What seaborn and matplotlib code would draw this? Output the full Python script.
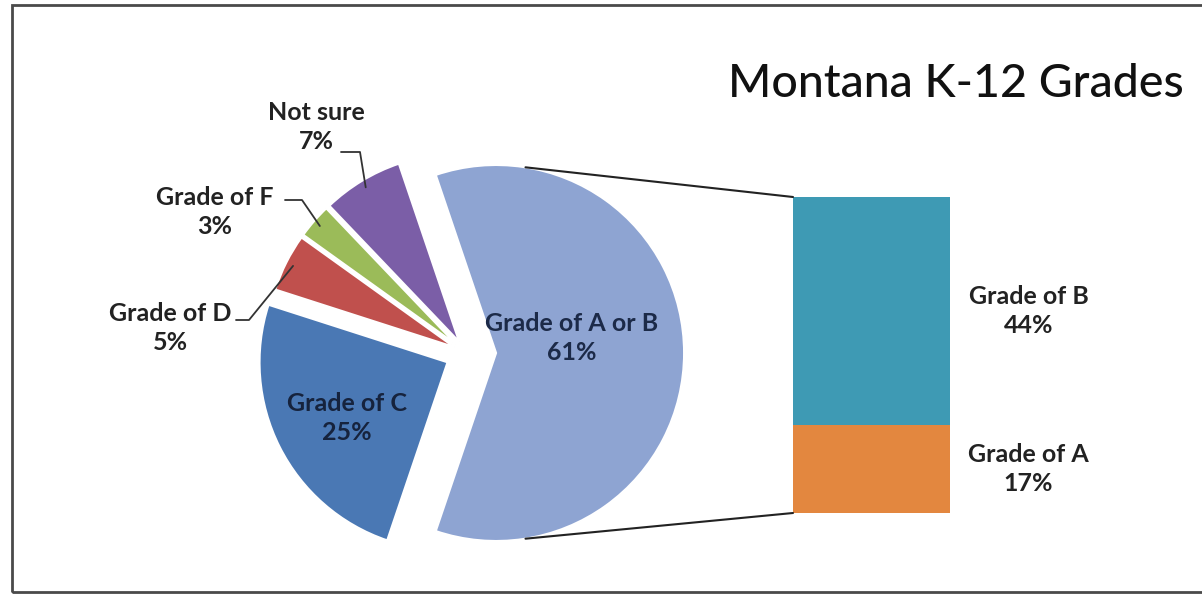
import matplotlib
matplotlib.use("Agg")
import matplotlib.pyplot as plt
from matplotlib.patches import ConnectionPatch, Rectangle
import numpy as np
import seaborn as sns

# data
pie_labels = ["Grade of A or B", "Not sure", "Grade of F", "Grade of D", "Grade of C"]
pie_values = [61, 7, 3, 5, 25]
bar_labels = ["Grade of A", "Grade of B"]
bar_values = [17, 44]
title = "Montana K-12 Grades"

pie_colors = ["#8EA4D2", "#7B5EA7", "#9BBB59", "#C0504D", "#4A78B4"]
bar_colors = ["#E3873F", "#3E9AB4"]

sns.set_theme(style="white")
plt.rcParams['font.family'] = ['Lato', 'DejaVu Sans']

W, H = 1202, 594
fig = plt.figure(figsize=(W / 100, H / 100), dpi=100)
ax = fig.add_axes([0, 0, 1, 1])

R = 188
explode = [0.16 * R, 0.07 * R, 0.07 * R, 0.07 * R, 0.11 * R]
start = -pie_values[0] / sum(pie_values) * 180
wedges, _ = ax.pie(pie_values, explode=explode, colors=pie_colors,
                   startangle=start, center=(466, H - 353), radius=R,
                   wedgeprops=dict(edgecolor="white", linewidth=1.5),
                   frame=True)
ax.set_xlim(0, W)
ax.set_ylim(0, H)
ax.axis("off")

lbl_size = 18
txt_col = "#222222"

# labels inside the big slices (pixel layout, y from top)
ax.text(572, H - 338, f"{pie_labels[0]}\n{pie_values[0]}%", ha="center", va="center",
        fontsize=lbl_size, fontweight="bold", color="#1c2a48", linespacing=1.3)
ax.text(347, H - 418, f"{pie_labels[4]}\n{pie_values[4]}%", ha="center", va="center",
        fontsize=lbl_size, fontweight="bold", color="#16233d", linespacing=1.3)

# outside labels with leader lines: (label centre, dash start, elbow)
outside = {1: ((316, 127), (341, 152), (360, 152)),
           2: ((215, 212), (285, 200), (302, 200)),
           3: ((170, 328), (236, 320), (249, 320))}
for i, (pos, d0, d1) in outside.items():
    w = wedges[i]
    mid = np.deg2rad((w.theta1 + w.theta2) / 2)
    px = w.center[0] + w.r * 0.96 * np.cos(mid)
    py = w.center[1] + w.r * 0.96 * np.sin(mid)
    ax.text(pos[0], H - pos[1], f"{pie_labels[i]}\n{pie_values[i]}%", ha="center",
            va="center", fontsize=lbl_size, fontweight="bold", color=txt_col,
            linespacing=1.3)
    ax.plot([d0[0], d1[0], px], [H - d0[1], H - d1[1], py], color="#333333", lw=1.3)

ax.text(956, H - 84, title, ha="center", va="center", fontsize=33.5,
        fontweight="medium", color="#111111")

# stacked bar of the split slice
ax2 = fig.add_axes([793 / W, (H - 513) / H, 157 / W, 316 / H])
bottoms = np.concatenate([[0], np.cumsum(bar_values)[:-1]])
ax2.bar(0, bar_values, bottom=bottoms, width=1, color=bar_colors, linewidth=0)
ax2.set_xlim(-0.5, 0.5)
ax2.set_ylim(0, sum(bar_values))
ax2.axis("off")
for lab, v, b in zip(bar_labels, bar_values, bottoms):
    ax2.text(1.0, b + v / 2, f"{lab}\n{v}%", ha="center", va="center", fontsize=lbl_size,
             fontweight="bold", color=txt_col, linespacing=1.3, clip_on=False)

# connector lines from the big slice to the bar
w = wedges[0]
for ang, yb in [(81, sum(bar_values)), (-81, 0)]:
    a = np.deg2rad(ang)
    p = (w.center[0] + w.r * np.cos(a), w.center[1] + w.r * np.sin(a))
    con = ConnectionPatch(xyA=p, coordsA=ax.transData, xyB=(-0.5, yb),
                          coordsB=ax2.transData, color="#222222", lw=1.5)
    fig.add_artist(con)

fig.add_artist(Rectangle((12 / W, 2 / H), (W - 10) / W, (H - 7) / H,
                         transform=fig.transFigure, fill=False, edgecolor="#4a4a4a", lw=2))

fig.savefig("out.png", dpi=100, facecolor="white")
